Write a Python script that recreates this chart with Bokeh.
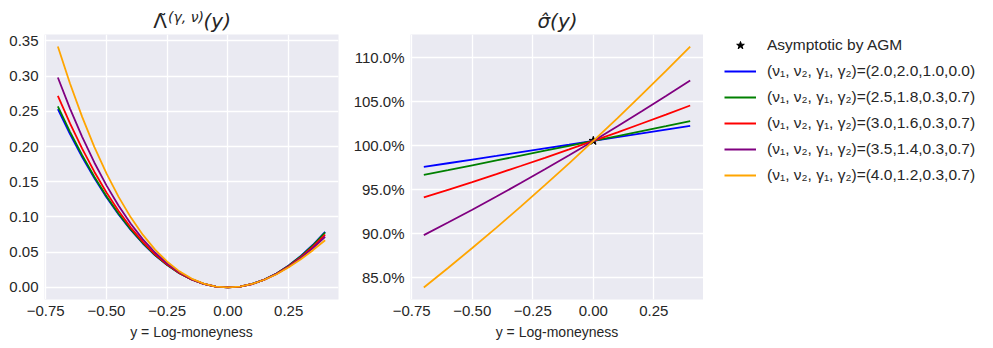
from bokeh.plotting import figure
from bokeh.layouts import row, column
from bokeh.models import (FixedTicker, CustomJSTickFormatter, NumeralTickFormatter,
                          Legend, LegendItem, Range1d)
from bokeh.core.properties import value
from bokeh.embed import file_html
from bokeh.resources import INLINE

# ---------------- data ----------------
x_lambda = [-0.70, -0.65, -0.60, -0.55, -0.50, -0.45, -0.40, -0.35, -0.30, -0.25, -0.20, -0.15,
            -0.10, -0.05, 0.00, 0.05, 0.10, 0.15, 0.20, 0.25, 0.30, 0.35, 0.40]
lam_blue = [0.2530, 0.2177, 0.1852, 0.1553, 0.1281, 0.1035, 0.0816, 0.0624, 0.0457, 0.0317, 0.0202, 0.0114,
            0.0050, 0.0013, 0.0000, 0.0013, 0.0050, 0.0112, 0.0199, 0.0311, 0.0446, 0.0606, 0.0790]
lam_green = [0.2570, 0.2209, 0.1876, 0.1571, 0.1295, 0.1045, 0.0823, 0.0628, 0.0460, 0.0318, 0.0203, 0.0114,
             0.0050, 0.0013, 0.0000, 0.0012, 0.0050, 0.0112, 0.0198, 0.0308, 0.0442, 0.0599, 0.0780]
lam_red = [0.2719, 0.2328, 0.1970, 0.1643, 0.1348, 0.1084, 0.0850, 0.0646, 0.0471, 0.0325, 0.0206, 0.0115,
           0.0051, 0.0013, 0.0000, 0.0012, 0.0049, 0.0110, 0.0194, 0.0300, 0.0429, 0.0579, 0.0750]
lam_purple = [0.2980, 0.2539, 0.2138, 0.1774, 0.1449, 0.1159, 0.0904, 0.0683, 0.0496, 0.0340, 0.0215, 0.0119,
              0.0052, 0.0013, 0.0000, 0.0013, 0.0049, 0.0109, 0.0192, 0.0295, 0.0418, 0.0560, 0.0720]
lam_orange = [0.3420, 0.2895, 0.2421, 0.1996, 0.1618, 0.1285, 0.0995, 0.0746, 0.0537, 0.0365, 0.0228, 0.0126,
              0.0055, 0.0013, 0.0000, 0.0013, 0.0050, 0.0109, 0.0188, 0.0286, 0.0400, 0.0529, 0.0670]

x_sigma = [-0.7, -0.6, -0.5, -0.4, -0.3, -0.2, -0.1, 0.0, 0.1, 0.2, 0.3, 0.4]
sig_blue = [0.9760, 0.9802, 0.9844, 0.9885, 0.9928, 0.9970, 1.0012, 1.0055, 1.0098, 1.0141, 1.0184, 1.0227]
sig_green = [0.9670, 0.9724, 0.9779, 0.9834, 0.9889, 0.9944, 1.0000, 1.0055, 1.0111, 1.0167, 1.0223, 1.0280]
sig_red = [0.9414, 0.9501, 0.9589, 0.9679, 0.9771, 0.9864, 0.9959, 1.0055, 1.0153, 1.0253, 1.0354, 1.0457]
sig_purple = [0.8987, 0.9129, 0.9275, 0.9424, 0.9577, 0.9733, 0.9892, 1.0055, 1.0221, 1.0391, 1.0564, 1.0740]
sig_orange = [0.8393, 0.8614, 0.8840, 0.9072, 0.9310, 0.9553, 0.9801, 1.0055, 1.0315, 1.0580, 1.0850, 1.1126]

agm_x = [0.0]
agm_y = [1.0057]

series_labels = ["(ν₁, ν₂, γ₁, γ₂)=(2.0,2.0,1.0,0.0)",
                 "(ν₁, ν₂, γ₁, γ₂)=(2.5,1.8,0.3,0.7)",
                 "(ν₁, ν₂, γ₁, γ₂)=(3.0,1.6,0.3,0.7)",
                 "(ν₁, ν₂, γ₁, γ₂)=(3.5,1.4,0.3,0.7)",
                 "(ν₁, ν₂, γ₁, γ₂)=(4.0,1.2,0.3,0.7)"]
agm_label = "Asymptotic by AGM"
colors = ["blue", "green", "red", "purple", "orange"]

x_ticks = [-0.75, -0.5, -0.25, 0.0, 0.25]
lam_ticks = [0.0, 0.05, 0.10, 0.15, 0.20, 0.25, 0.30, 0.35]
sig_ticks = [0.85, 0.90, 0.95, 1.00, 1.05, 1.10]

x_title = "y = Log-moneyness"
title_left_main = "Λ̃"
title_left_sup = "(γ, ν)"
title_left_arg = "(y)"
title_right = "σ̂(y)"

lam_series = [lam_blue, lam_green, lam_red, lam_purple, lam_orange]
sig_series = [sig_blue, sig_green, sig_red, sig_purple, sig_orange]

TXT = "#262626"
FONT = "Liberation Sans"
MATH = "DejaVu Sans"

JS_FMT = "return (tick < 0 ? '\\u2212' : '') + Math.abs(tick).toFixed(2);"


def style(p):
    p.background_fill_color = "#EAEAF2"
    p.border_fill_color = "white"
    p.outline_line_color = None
    p.grid.grid_line_color = "white"
    p.grid.grid_line_width = 1.3
    for ax in p.axis:
        ax.axis_line_color = None
        ax.major_tick_line_color = None
        ax.minor_tick_line_color = None
        ax.major_tick_out = 0
        ax.major_tick_in = 0
        ax.minor_tick_out = 0
        ax.minor_tick_in = 0
        ax.major_label_text_font = FONT
        ax.major_label_text_font_size = "15px"
        ax.major_label_text_color = TXT
        ax.axis_label_text_font = FONT
        ax.axis_label_text_font_size = "14px"
        ax.axis_label_text_font_style = "normal"
        ax.axis_label_text_color = TXT
    p.xaxis.major_label_standoff = 6
    p.yaxis.major_label_standoff = 6
    p.xaxis.axis_label_standoff = 5


def blank(w, h):
    f = figure(width=w, height=h, output_backend="svg", toolbar_location=None,
               x_range=Range1d(0, w), y_range=Range1d(0, h),
               x_axis_type=None, y_axis_type=None,
               min_border_left=0, min_border_right=0, min_border_top=0, min_border_bottom=0)
    f.outline_line_color = None
    f.background_fill_color = "white"
    f.border_fill_color = "white"
    f.grid.visible = False
    return f


# ---------------- title strips ----------------
t1 = blank(350, 32)
t1.text(x=[152.7], y=[12], text=[title_left_main], text_font=value(MATH), text_font_size="20px",
        text_color=TXT, text_baseline="alphabetic")
t1.text(x=[167.5], y=[15.5], text=[title_left_sup], text_font=value(MATH), text_font_size="14px",
        text_font_style="italic", text_color=TXT, text_baseline="alphabetic")
t1.text(x=[203], y=[12], text=[title_left_arg], text_font=value(MATH), text_font_size="20px",
        text_font_style="italic", text_color=TXT, text_baseline="alphabetic")

t2 = blank(353, 32)
t2.text(x=[207], y=[12], text=[title_right], text_font=value(MATH), text_font_size="20px",
        text_font_style="italic", text_color=TXT, text_align="center", text_baseline="alphabetic")

# ---------------- left figure ----------------
p1 = figure(width=350, height=313, output_backend="svg", toolbar_location=None,
            x_range=Range1d(-0.755, 0.455), y_range=Range1d(-0.0171, 0.359),
            min_border_left=44, min_border_right=12, min_border_top=2, min_border_bottom=46)
style(p1)
p1.xaxis.ticker = FixedTicker(ticks=x_ticks)
p1.yaxis.ticker = FixedTicker(ticks=lam_ticks)
p1.xaxis.formatter = CustomJSTickFormatter(code=JS_FMT)
p1.yaxis.formatter = CustomJSTickFormatter(code=JS_FMT)
p1.xaxis.axis_label = x_title
for ys, c in zip(lam_series, colors):
    p1.line(x_lambda, ys, line_color=c, line_width=1.8)

# ---------------- right figure ----------------
p2 = figure(width=353, height=313, output_backend="svg", toolbar_location=None,
            x_range=Range1d(-0.755, 0.455), y_range=Range1d(0.8256, 1.1263),
            min_border_left=60, min_border_right=0, min_border_top=2, min_border_bottom=46)
style(p2)
p2.xaxis.ticker = FixedTicker(ticks=x_ticks)
p2.yaxis.ticker = FixedTicker(ticks=sig_ticks)
p2.xaxis.formatter = CustomJSTickFormatter(code=JS_FMT)
p2.yaxis.formatter = NumeralTickFormatter(format="0.0%")
p2.xaxis.axis_label = x_title

p2.scatter(agm_x, agm_y, marker="star", size=9, color="black")
for ys, c in zip(sig_series, colors):
    p2.line(x_sigma, ys, line_color=c, line_width=1.8)

# ---------------- legend strip ----------------
lg = blank(280, 345)
items = []
star_r = lg.scatter([-100], [-100], marker="star", size=9, color="black")
items.append(LegendItem(label=agm_label, renderers=[star_r]))
for c, lab in zip(colors, series_labels):
    r = lg.line([-100, -90], [-100, -100], line_color=c, line_width=1.8)
    items.append(LegendItem(label=lab, renderers=[r]))

legend = Legend(items=items, location=(21, 160), glyph_width=32, glyph_height=20,
                label_height=20, spacing=6, padding=0, margin=0, label_standoff=11,
                border_line_color=None, background_fill_alpha=0,
                label_text_font=FONT, label_text_font_size="15.5px", label_text_color=TXT)
lg.add_layout(legend)

layout = row(column(row(t1, t2), row(p1, p2)), lg)
open("out.html", "w").write(file_html(layout, INLINE))
